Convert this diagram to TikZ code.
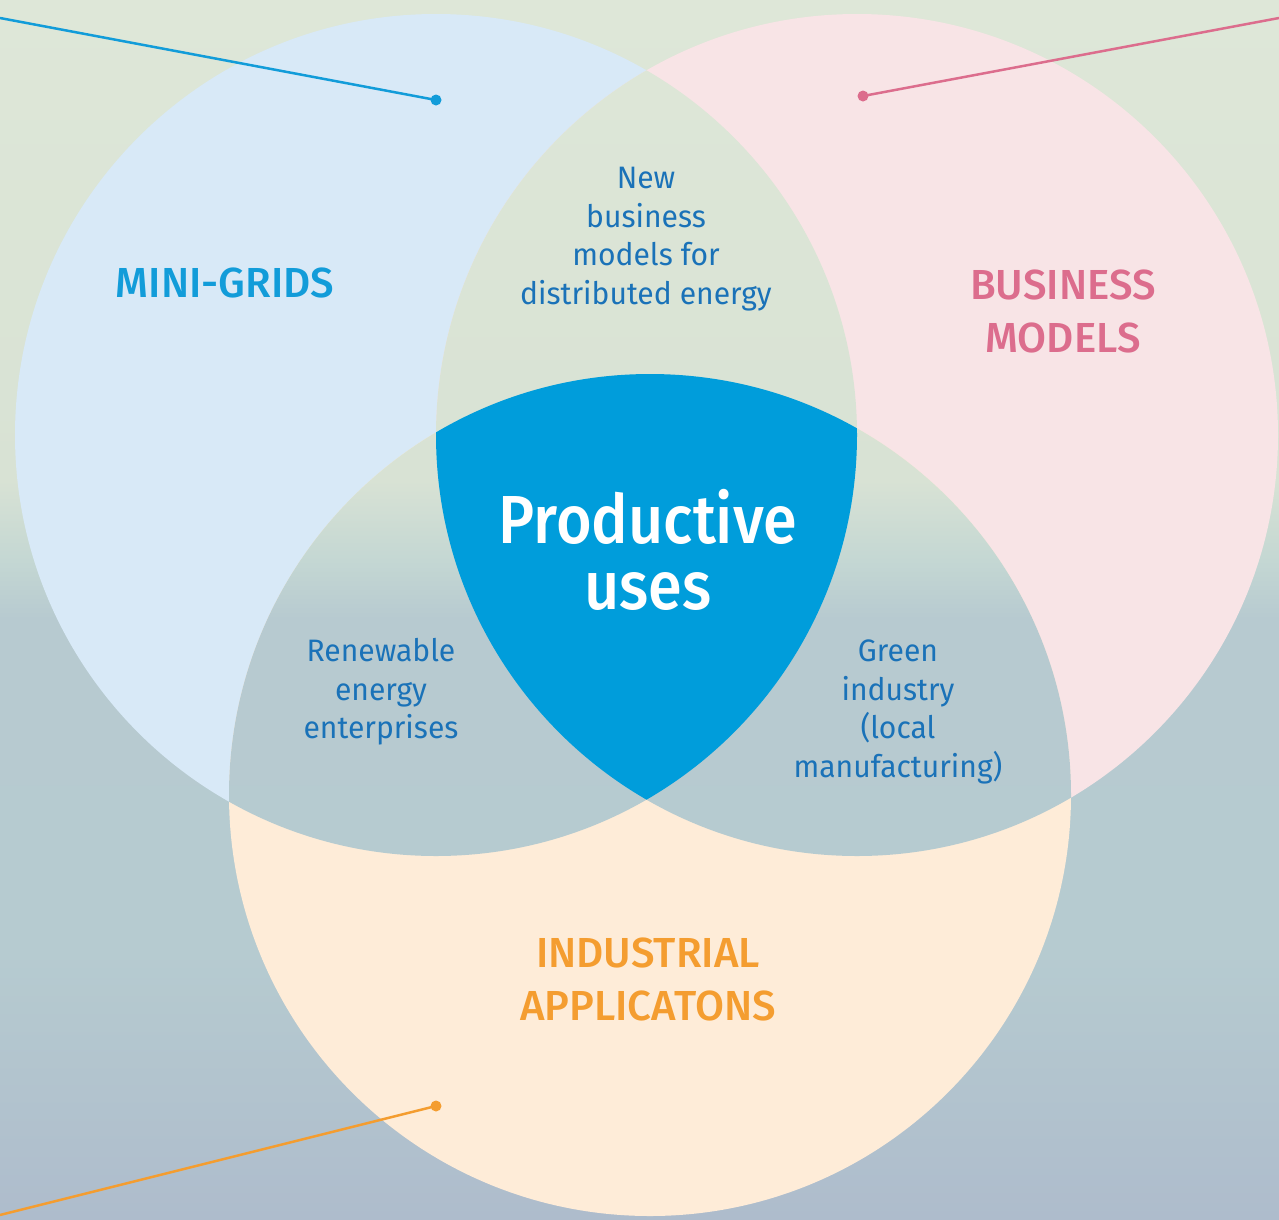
\documentclass[tikz,border=0pt]{standalone}
\usepackage{fontspec}
\setmainfont{Fira Sans}[FakeStretch=0.97]
\newfontfamily\medfont{Fira Sans Medium}
\newfontfamily\coremedfont{Fira Sans Medium}[FakeStretch=0.9]
\definecolor{bgA}{HTML}{DEE7D8}
\definecolor{bgB}{HTML}{D8E2D4}
\definecolor{bgC}{HTML}{C4D7D3}
\definecolor{bgD}{HTML}{B7CAD0}
\definecolor{bgE}{HTML}{B6CBD0}
\definecolor{bgF}{HTML}{AEBCCC}
\definecolor{leftc}{HTML}{D8E9F7}
\definecolor{rightc}{HTML}{F8E4E6}
\definecolor{botc}{HTML}{FEECD8}
\definecolor{coreblue}{HTML}{009DDB}
\definecolor{smalltext}{HTML}{1A72B8}
\definecolor{minic}{HTML}{129CD9}
\definecolor{busc}{HTML}{DC6D8D}
\definecolor{indc}{HTML}{F49D30}
\pgfdeclareverticalshading{bgshade}{100bp}{color(0bp)=(bgF); color(25bp)=(bgF); color(36bp)=(bgE); color(49.6bp)=(bgD); color(52bp)=(bgC); color(55.3bp)=(bgB); color(75bp)=(bgA); color(100bp)=(bgA)}
\newcommand\bgfill{\shade[shading=bgshade] (0,0) rectangle (1279,1219);}
\tikzset{
  smalllabel/.style={text=smalltext, align=center, font=\fontsize{31}{38.5}\selectfont, inner sep=0pt},
  biglabel/.style={align=center, font=\medfont\fontsize{42}{53}\selectfont, inner sep=0pt},
  corelabel/.style={text=white, align=center, font=\coremedfont\fontsize{68}{66}\selectfont, inner sep=0pt},
  pointer/.style={line width=2.5pt},
  dotnode/.style={circle, inner sep=0pt, minimum size=11pt}
}
\begin{document}
\begin{tikzpicture}[x=1pt,y=-1pt]
\useasboundingbox (0,0) rectangle (1279,1219);
\bgfill
\coordinate (cL) at (436,435);
\coordinate (cR) at (857,435);
\coordinate (cB) at (650,795);
\def\rr{421}
% single circles
\fill[leftc] (cL) circle[radius=\rr];
\fill[rightc] (cR) circle[radius=\rr];
\fill[botc] (cB) circle[radius=\rr];
% pairwise intersections show background
\begin{scope}\clip (cL) circle[radius=\rr]; \clip (cR) circle[radius=\rr]; \bgfill\end{scope}
\begin{scope}\clip (cL) circle[radius=\rr]; \clip (cB) circle[radius=\rr]; \bgfill\end{scope}
\begin{scope}\clip (cR) circle[radius=\rr]; \clip (cB) circle[radius=\rr]; \bgfill\end{scope}
% triple intersection
\begin{scope}\clip (cL) circle[radius=\rr]; \clip (cR) circle[radius=\rr]; \fill[coreblue] (cB) circle[radius=\rr];\end{scope}
% pointer lines
\coordinate (bluestart) at (0,18);
\coordinate (pinkstart) at (1279,18);
\coordinate (orangestart) at (0,1215);
\node[dotnode, fill=minic] (bluedot) at (436,100) {};
\node[dotnode, fill=busc] (pinkdot) at (863,96) {};
\node[dotnode, fill=indc] (orangedot) at (436,1106) {};
\draw[pointer, minic] (bluestart) -- (bluedot.center);
\draw[pointer, busc] (pinkstart) -- (pinkdot.center);
\draw[pointer, indc] (orangestart) -- (orangedot.center);
% labels
\node[biglabel, text=minic] (mini) at (225,283) {MINI-GRIDS};
\node[biglabel, text=busc] (bus) at (1063,311) {BUSINESS\\MODELS};
\node[biglabel, text=indc] (ind) at (648,979) {INDUSTRIAL\\APPLICATONS};
\node[smalllabel] (newbm) at (646,239) {New\\business\\models for\\distributed energy};
\node[smalllabel] (ree) at (381,692) {Renewable\\energy\\enterprises};
\node[smalllabel] (green) at (898,712) {Green\\industry\\(local\\manufacturing)};
\node[corelabel] (core) at (648,550) {Productive\\uses};
\end{tikzpicture}
\end{document}
